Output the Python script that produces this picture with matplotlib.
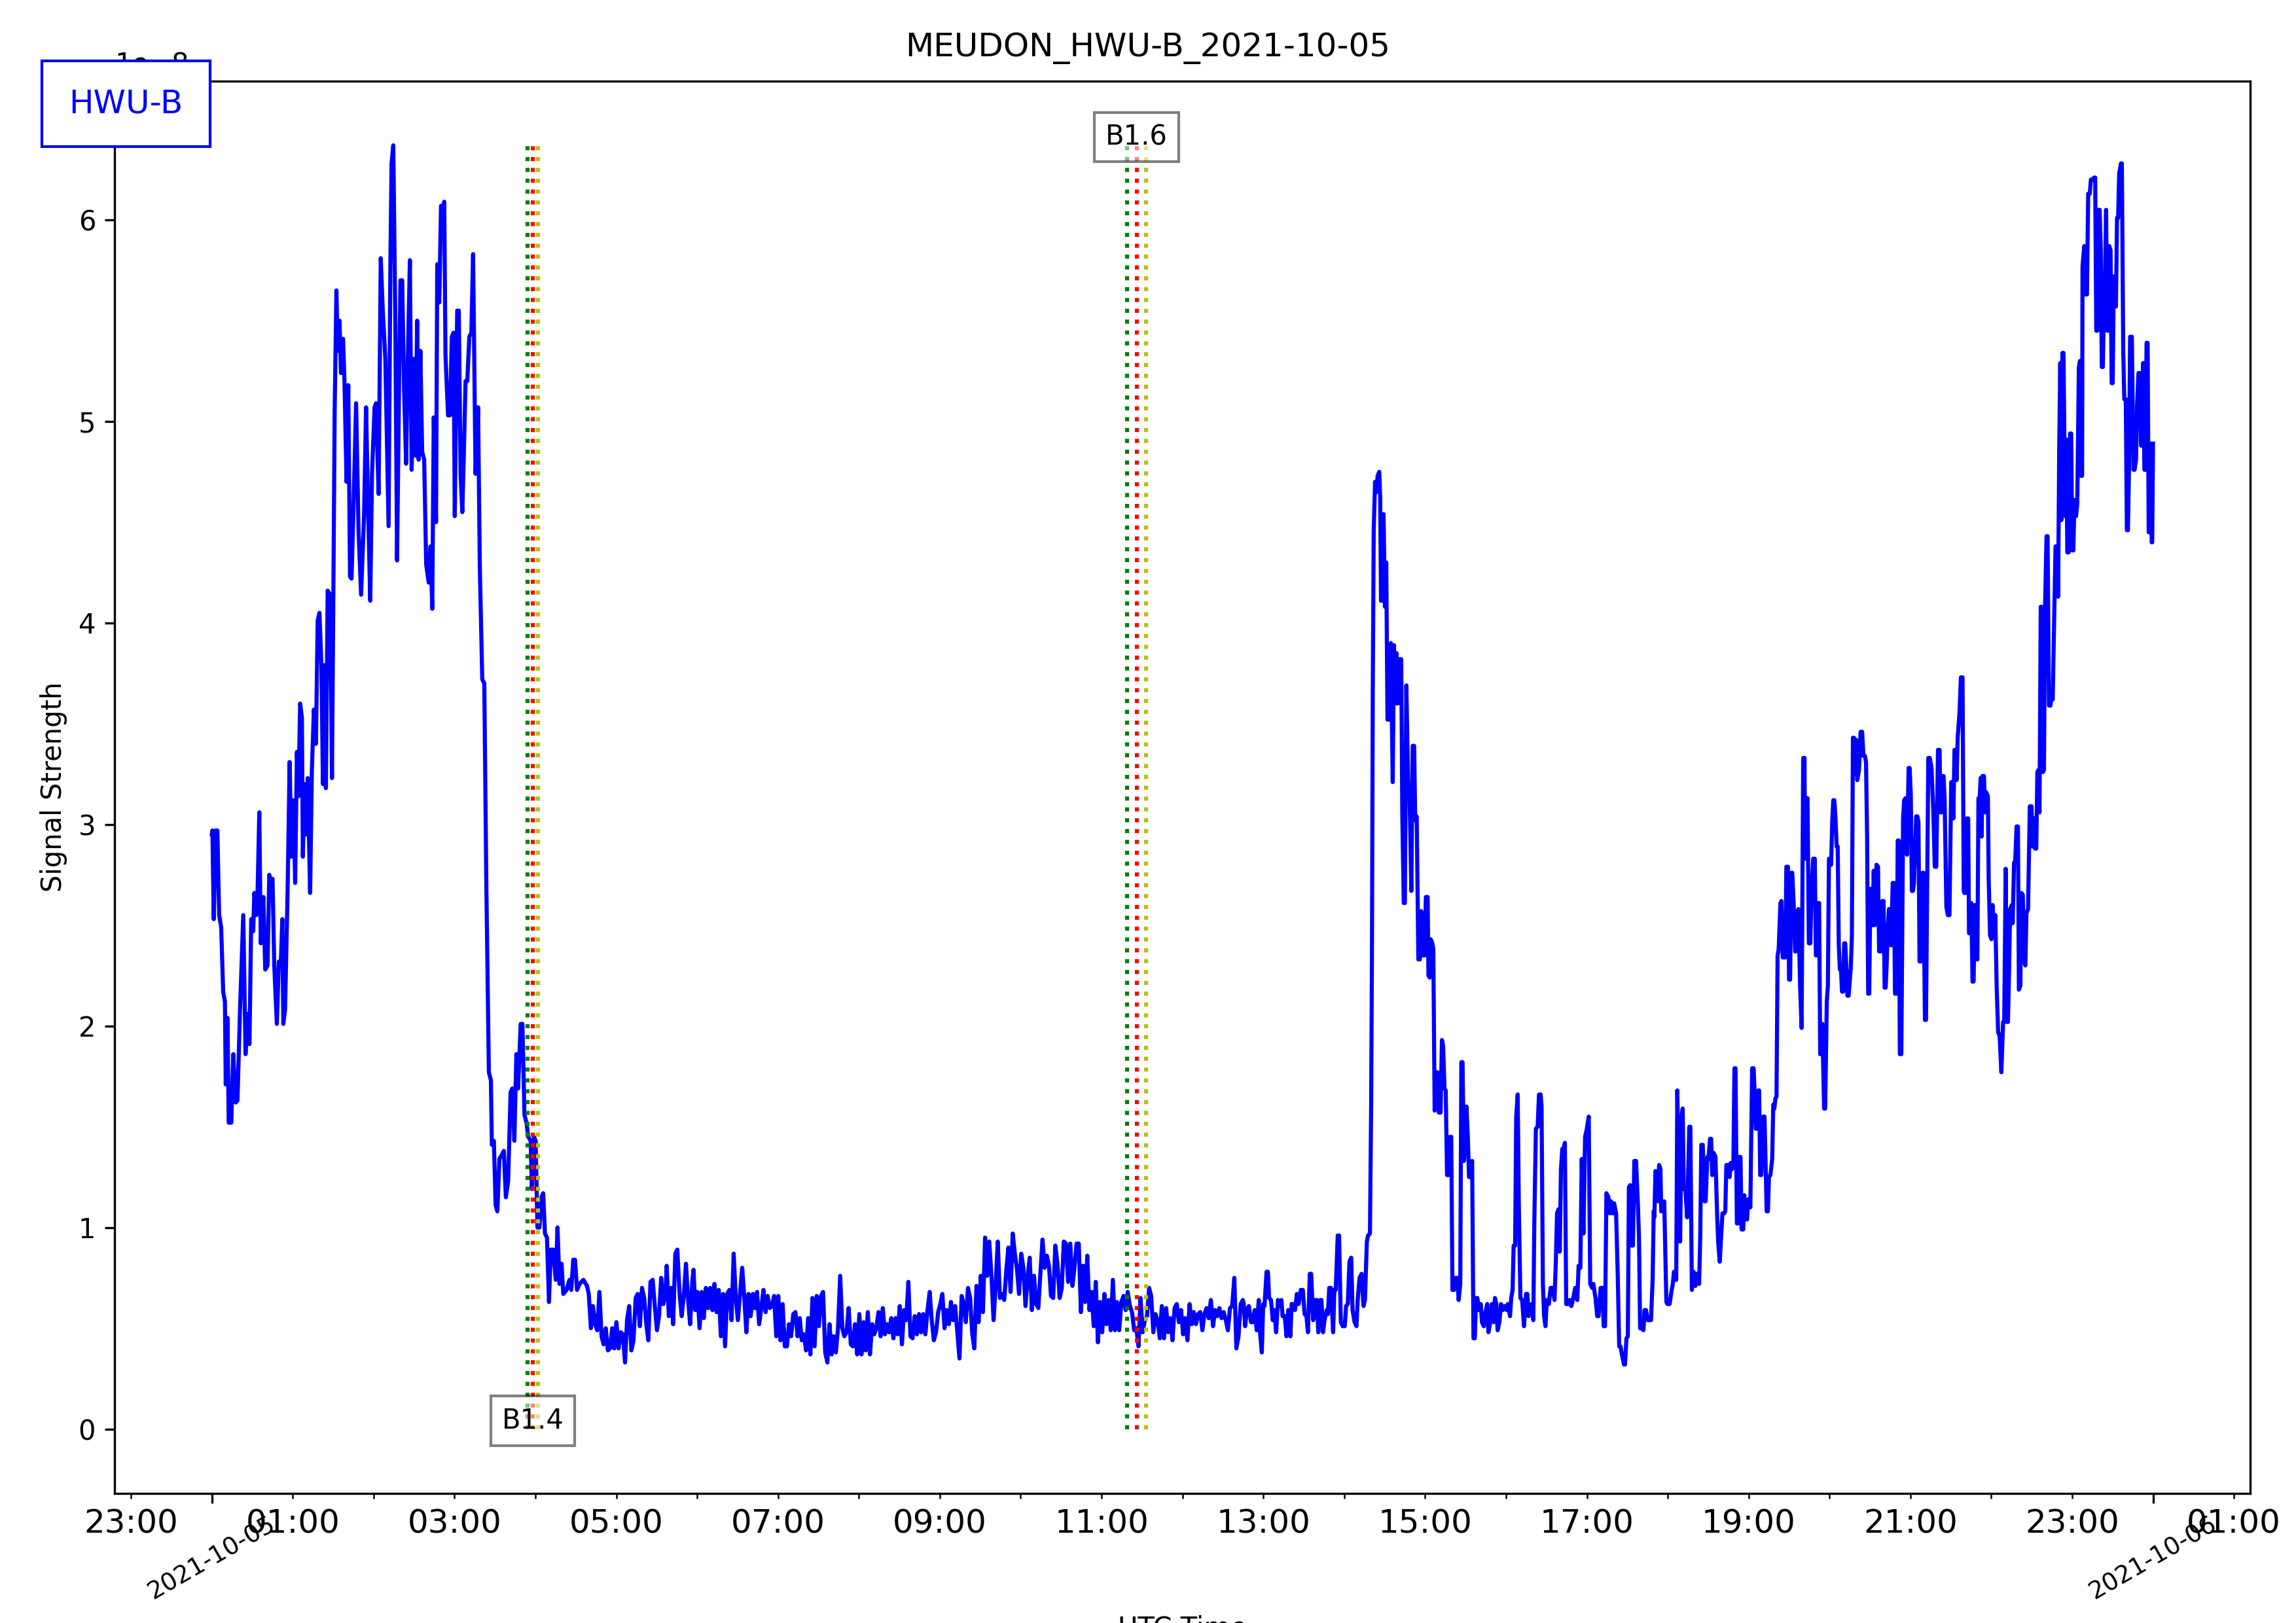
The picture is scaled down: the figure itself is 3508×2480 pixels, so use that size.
import matplotlib
matplotlib.use('Agg')
import matplotlib.pyplot as plt
import matplotlib.dates as mdates
from matplotlib.ticker import FuncFormatter
import numpy as np
import pandas as pd

station = 'MEUDON'
transmitter = 'HWU-B'
day = '2021-10-05'

# signal readings as (minutes after 00:00 UTC, amplitude in units of 1e-8)
night_rise = [
    (0.0, 2.95), (0.4, 2.97), (1.4, 2.53), (2.8, 2.97), (4.1, 2.97), (5.4, 2.55), (6.9, 2.49),
    (8.4, 2.17), (9.7, 2.12), (10.3, 1.71), (11.6, 2.04), (12.5, 1.52), (14.4, 1.52), (15.9, 1.86),
    (17.7, 1.62), (19.0, 1.63), (20.9, 2.08), (23.3, 2.55), (25.0, 1.86), (26.4, 2.06), (27.9, 1.91),
    (29.2, 2.53), (30.7, 2.47), (31.5, 2.66), (33.0, 2.55), (33.9, 2.66), (35.2, 3.06), (36.3, 2.41),
    (38.2, 2.64), (39.6, 2.28), (41.3, 2.30), (42.6, 2.75), (44.1, 2.71), (45.0, 2.73), (46.3, 2.30),
    (48.2, 2.01), (49.7, 2.32), (51.2, 2.32), (52.3, 2.53), (53.0, 2.01), (54.3, 2.08), (56.2, 2.67),
    (57.7, 3.31), (59.0, 2.84), (60.5, 3.12), (61.8, 2.71), (63.1, 3.36), (64.2, 3.14), (65.5, 3.60),
    (66.8, 3.53), (67.5, 2.84), (68.7, 3.20), (70.1, 2.95), (71.1, 3.23), (72.9, 2.66), (74.2, 3.27),
    (75.7, 3.57), (77.2, 3.40), (78.5, 4.01), (79.8, 4.05), (81.3, 3.79), (82.4, 3.20), (83.5, 3.79),
    (84.6, 3.18), (85.9, 4.16), (87.8, 4.14), (89.1, 3.23), (90.2, 4.20), (91.1, 5.05), (92.4, 5.65),
    (93.4, 5.35), (94.7, 5.50), (95.8, 5.24), (97.3, 5.41), (98.4, 5.20), (99.9, 4.70), (101.2, 5.18),
    (102.5, 4.23), (103.6, 4.22), (104.9, 4.53), (107.0, 5.09), (108.8, 4.46), (110.7, 4.14),
    (112.9, 4.53), (114.4, 5.07), (115.9, 4.57), (117.5, 4.11), (118.8, 4.74), (120.7, 5.07),
    (121.8, 5.09), (123.7, 4.64), (125.3, 5.81), (126.8, 5.55), (128.7, 5.31), (131.1, 4.48),
    (132.4, 5.76), (133.3, 6.28), (134.6, 6.37), (136.1, 5.50), (137.4, 4.31), (138.9, 5.20),
    (139.9, 5.70), (141.2, 5.70), (142.6, 5.16), (144.1, 4.79), (145.4, 5.31), (146.9, 5.80),
    (148.2, 4.76), (149.7, 5.31), (151.0, 4.83), (152.3, 5.50), (153.4, 4.81), (154.7, 5.35),
    (156.0, 4.85), (157.5, 4.81), (159.0, 4.29), (160.9, 4.20), (162.2, 4.38), (163.5, 4.07),
    (164.6, 5.02), (166.3, 4.50), (167.2, 5.78), (168.7, 5.59), (170.0, 6.07), (171.5, 6.02),
    (172.4, 6.09), (173.3, 5.33), (175.2, 5.03), (176.7, 5.03), (178.0, 5.42), (179.3, 5.44),
    (180.2, 4.53), (182.0, 5.55), (183.2, 5.55), (184.5, 4.74), (185.8, 4.55), (186.9, 4.83),
    (188.2, 5.20), (189.5, 5.20), (191.0, 5.42), (192.5, 5.44), (193.8, 5.83), (195.6, 4.74),
    (197.5, 5.07), (198.8, 4.27), (200.6, 3.72), (202.1, 3.70), (203.6, 2.71), (205.5, 1.77),
    (207.0, 1.73), (207.7, 1.41), (209.2, 1.43), (210.5, 1.11), (211.8, 1.08), (213.3, 1.34),
    (215.1, 1.36), (216.6, 1.38), (218.1, 1.15), (219.8, 1.23), (221.6, 1.67), (222.9, 1.69),
    (224.4, 1.43), (225.9, 1.86), (227.2, 1.69), (229.1, 2.01), (230.4, 2.01), (231.9, 1.56),
    (233.4, 1.52), (234.7, 1.45), (236.5, 1.43), (237.4, 1.19), (238.9, 1.45), (240.2, 1.43),
    (241.5, 1.00), (243.0, 1.00), (244.5, 1.15), (245.8, 1.17), (247.1, 0.97), (248.6, 0.95),
    (250.1, 0.63), (251.4, 0.89), (253.2, 0.89), (255.1, 0.74), (256.4, 1.00), (257.9, 0.72),
    (259.4, 0.82), (260.7, 0.67), (263.1, 0.69), (265.3, 0.74), (266.6, 0.69), (268.1, 0.84),
    (269.4, 0.84), (270.9, 0.69), (272.8, 0.72), (275.6, 0.74), (278.3, 0.71),
]

quiet_day = [
    (279.6, 0.67), (281.2, 0.50), (282.7, 0.61), (284.3, 0.52), (285.9, 0.49), (287.5, 0.68),
    (289.1, 0.46), (290.6, 0.42), (292.2, 0.50), (293.8, 0.39), (295.4, 0.40), (297.0, 0.50),
    (298.5, 0.40), (300.1, 0.53), (301.7, 0.40), (303.3, 0.48), (304.9, 0.47), (306.5, 0.33),
    (308.0, 0.54), (309.6, 0.61), (311.2, 0.39), (312.8, 0.44), (314.4, 0.65), (315.9, 0.67),
    (317.5, 0.51), (319.1, 0.70), (320.7, 0.65), (322.3, 0.52), (323.8, 0.44), (325.4, 0.73),
    (327.0, 0.74), (328.6, 0.61), (330.2, 0.49), (331.7, 0.56), (333.3, 0.75), (334.9, 0.62),
    (336.5, 0.67), (337.4, 0.81), (339.0, 0.56), (340.6, 0.70), (342.2, 0.52), (343.8, 0.87),
    (345.3, 0.89), (346.9, 0.68), (348.5, 0.56), (350.1, 0.66), (351.7, 0.82), (353.2, 0.65),
    (354.8, 0.52), (356.4, 0.73), (357.3, 0.79), (358.6, 0.59), (360.2, 0.68), (361.8, 0.50),
    (363.3, 0.68), (364.9, 0.55), (366.5, 0.70), (368.1, 0.60), (369.7, 0.70), (371.3, 0.59),
    (372.8, 0.72), (374.4, 0.58), (376.0, 0.69), (377.6, 0.46), (379.2, 0.67), (380.7, 0.41),
    (382.3, 0.67), (383.9, 0.69), (385.5, 0.54), (387.1, 0.87), (388.6, 0.66), (390.2, 0.54),
    (391.8, 0.67), (393.4, 0.80), (395.0, 0.65), (396.5, 0.48), (398.1, 0.67), (399.7, 0.56),
    (401.3, 0.67), (402.9, 0.60), (404.4, 0.68), (406.0, 0.52), (407.6, 0.60), (409.2, 0.69),
    (410.8, 0.58), (412.3, 0.66), (413.9, 0.60), (415.5, 0.61), (417.1, 0.66), (418.7, 0.46),
    (420.2, 0.66), (421.8, 0.44), (423.4, 0.62), (425.0, 0.41), (426.6, 0.41), (428.1, 0.52),
    (429.7, 0.46), (431.3, 0.57), (432.9, 0.58), (434.5, 0.46), (436.1, 0.55), (437.6, 0.44),
    (439.2, 0.47), (440.8, 0.39), (442.4, 0.55), (444.0, 0.37), (445.5, 0.65), (447.1, 0.41),
    (448.7, 0.66), (450.3, 0.51), (451.9, 0.66), (453.4, 0.68), (455.0, 0.38), (456.6, 0.33),
    (458.2, 0.52), (459.8, 0.37), (461.3, 0.46), (462.9, 0.38), (464.5, 0.50), (466.1, 0.76),
    (467.7, 0.50), (469.2, 0.46), (470.8, 0.48), (472.4, 0.60), (474.0, 0.42), (475.6, 0.41),
    (477.1, 0.52), (478.7, 0.37), (480.3, 0.57), (481.9, 0.37), (483.5, 0.53), (485.0, 0.39),
    (486.6, 0.58), (488.2, 0.37), (489.8, 0.52), (491.4, 0.47), (492.9, 0.50), (494.5, 0.58),
    (496.1, 0.46), (497.7, 0.60), (499.3, 0.47), (500.9, 0.52), (502.4, 0.48), (504.0, 0.55),
    (505.6, 0.45), (507.2, 0.55), (508.8, 0.47), (510.3, 0.61), (511.9, 0.42), (513.5, 0.59),
    (515.1, 0.54), (516.7, 0.73), (518.2, 0.46), (519.8, 0.45), (521.4, 0.56), (523.0, 0.47),
    (524.6, 0.57), (526.1, 0.48), (527.7, 0.57), (529.3, 0.47), (530.9, 0.59), (532.5, 0.68),
    (534.0, 0.54), (535.6, 0.44), (537.2, 0.48), (538.8, 0.58), (540.4, 0.62), (541.9, 0.67),
    (543.5, 0.50), (545.1, 0.59), (546.7, 0.52), (548.3, 0.63), (549.8, 0.54), (551.4, 0.61),
    (553.0, 0.48), (554.6, 0.35), (556.2, 0.66), (557.7, 0.62), (559.3, 0.53), (560.9, 0.70),
    (562.5, 0.65), (564.1, 0.47), (565.6, 0.40), (567.2, 0.71), (568.8, 0.53), (570.4, 0.76),
    (572.0, 0.58), (573.6, 0.95), (575.1, 0.76), (576.7, 0.93), (578.3, 0.76), (579.9, 0.54),
    (581.5, 0.72), (583.0, 0.93), (584.6, 0.65), (586.2, 0.67), (587.8, 0.64), (589.4, 0.79),
    (590.9, 0.90), (592.5, 0.68), (594.1, 0.97), (595.7, 0.87), (597.3, 0.79), (598.8, 0.67),
    (600.4, 0.87), (602.0, 0.80), (603.6, 0.61), (605.2, 0.76), (606.7, 0.85), (608.3, 0.59),
    (609.9, 0.76), (611.5, 0.62), (613.1, 0.60), (614.6, 0.77), (616.2, 0.94), (617.8, 0.80),
    (619.4, 0.86), (621.0, 0.81), (622.5, 0.66), (624.1, 0.65), (625.7, 0.91), (627.3, 0.82),
    (628.9, 0.65), (630.5, 0.70), (632.0, 0.93), (633.6, 0.92), (635.2, 0.73), (636.8, 0.92),
    (638.4, 0.71), (639.9, 0.80), (641.5, 0.92), (643.1, 0.92), (644.7, 0.58), (646.3, 0.81),
    (647.8, 0.63), (649.4, 0.86), (651.0, 0.59), (652.6, 0.68), (654.2, 0.51), (655.7, 0.73),
    (657.3, 0.43), (658.9, 0.63), (660.5, 0.48), (662.1, 0.67), (663.6, 0.52), (665.2, 0.64),
    (666.8, 0.49), (668.4, 0.74), (670.0, 0.49), (671.5, 0.63), (673.1, 0.49), (674.7, 0.63),
    (676.3, 0.66), (677.9, 0.59), (679.4, 0.68), (681.0, 0.61), (682.6, 0.58), (684.2, 0.49),
    (685.8, 0.50), (687.4, 0.41), (688.9, 0.65), (690.5, 0.48), (692.1, 0.54), (693.7, 0.56),
    (695.3, 0.70), (696.8, 0.66), (698.4, 0.48), (700.0, 0.57), (701.6, 0.54), (703.2, 0.45),
    (704.7, 0.61), (706.3, 0.45), (707.9, 0.60), (709.5, 0.48), (711.1, 0.55), (712.6, 0.44),
    (714.2, 0.60), (715.8, 0.62), (717.4, 0.53), (719.0, 0.59), (720.5, 0.47), (722.1, 0.55),
    (723.7, 0.44), (725.3, 0.62), (726.9, 0.52), (728.4, 0.58), (730.0, 0.52), (731.6, 0.57),
    (733.2, 0.58), (734.8, 0.49), (736.3, 0.57), (737.9, 0.60), (739.5, 0.55), (741.1, 0.64),
    (742.7, 0.51), (744.2, 0.59), (745.8, 0.56), (747.4, 0.60), (749.0, 0.55), (750.6, 0.58),
    (752.2, 0.54), (753.7, 0.49), (755.3, 0.60), (756.9, 0.61), (758.5, 0.75), (760.0, 0.40),
    (761.6, 0.46), (763.2, 0.62), (764.8, 0.64),
]

afternoon = [
    (765.5, 0.62), (766.5, 0.51), (767.8, 0.59), (769.3, 0.61), (770.9, 0.53), (772.2, 0.53),
    (773.6, 0.59), (775.1, 0.49), (776.6, 0.64), (777.4, 0.49), (778.9, 0.38), (779.9, 0.62),
    (780.9, 0.61), (782.4, 0.78), (783.4, 0.78), (784.3, 0.65), (785.7, 0.64), (787.0, 0.54),
    (788.2, 0.59), (789.5, 0.48), (790.9, 0.64), (792.0, 0.61), (793.4, 0.64), (794.3, 0.56),
    (795.9, 0.56), (797.2, 0.46), (798.5, 0.59), (800.1, 0.46), (801.0, 0.62), (802.0, 0.62),
    (803.5, 0.59), (804.9, 0.67), (806.2, 0.62), (807.8, 0.69), (809.3, 0.69), (810.6, 0.57),
    (812.0, 0.56), (813.1, 0.48), (814.5, 0.77), (815.5, 0.77), (817.0, 0.54), (818.3, 0.64),
    (819.7, 0.64), (820.8, 0.48), (822.2, 0.64), (823.1, 0.64), (824.3, 0.48), (825.4, 0.54),
    (827.0, 0.59), (827.9, 0.57), (828.9, 0.70), (830.2, 0.70), (831.8, 0.48), (832.7, 0.69),
    (833.7, 0.69), (835.2, 0.96), (836.2, 0.96), (837.5, 0.53), (838.9, 0.51), (840.4, 0.51),
    (841.4, 0.61), (842.7, 0.62), (843.9, 0.83), (845.2, 0.85), (846.2, 0.59), (847.7, 0.53),
    (849.1, 0.51), (850.0, 0.64), (851.4, 0.75), (852.9, 0.77), (854.3, 0.61), (855.4, 0.64),
    (856.8, 0.93), (857.7, 0.96), (859.1, 0.97), (860.0, 1.61), (860.6, 2.38), (861.2, 3.66),
    (861.9, 4.46), (862.9, 4.70), (863.9, 4.65), (864.8, 4.73), (866.0, 4.75), (866.7, 4.62),
    (867.3, 4.11), (868.3, 4.11), (869.2, 4.54), (870.2, 4.08), (871.2, 4.30), (872.1, 3.52),
    (873.5, 3.52), (874.6, 3.90), (876.0, 3.21), (876.9, 3.89), (878.1, 3.60), (878.8, 3.85),
    (879.8, 3.60), (880.8, 3.82), (882.3, 3.82), (883.1, 3.05), (884.2, 2.61), (885.0, 2.61),
    (886.1, 3.69), (887.5, 3.18), (888.5, 3.15), (889.8, 2.67), (890.8, 3.39), (891.9, 3.39),
    (892.7, 3.02), (893.8, 3.04), (895.0, 2.33), (896.1, 2.33), (897.1, 2.57), (898.1, 2.35),
    (899.6, 2.35), (900.6, 2.64), (901.9, 2.64), (902.5, 2.25), (903.4, 2.24), (904.2, 2.43),
    (905.4, 2.41), (906.1, 2.38), (907.1, 1.58), (908.0, 1.77), (909.2, 1.77), (910.2, 1.57),
    (911.5, 1.57), (912.5, 1.93), (913.4, 1.90), (914.4, 1.69), (915.3, 1.68), (916.3, 1.26),
    (917.3, 1.26), (918.4, 1.45), (919.4, 1.45), (920.3, 0.69), (921.5, 0.69), (922.6, 0.75),
    (924.0, 0.75), (924.9, 0.64), (926.1, 0.72), (926.9, 1.82), (927.8, 1.82), (928.8, 1.33),
    (929.7, 1.42), (930.7, 1.60), (931.7, 1.45), (932.6, 1.25), (933.6, 1.25), (934.9, 1.33),
    (935.9, 0.45), (936.9, 0.45), (937.8, 0.65), (938.8, 0.65), (939.9, 0.59), (941.3, 0.62),
    (942.2, 0.53), (943.6, 0.51), (944.5, 0.57), (946.1, 0.62), (947.0, 0.48), (948.6, 0.54),
    (949.5, 0.62), (950.9, 0.53), (951.8, 0.65), (952.8, 0.62), (953.8, 0.49), (955.1, 0.53),
    (956.3, 0.62), (957.6, 0.59), (959.1, 0.61), (960.5, 0.59), (961.4, 0.62), (963.0, 0.56),
    (963.9, 0.65), (964.9, 0.69), (965.7, 0.91), (966.8, 0.91), (967.6, 1.55), (968.7, 1.66),
    (969.5, 1.13), (970.7, 0.65), (972.0, 0.64), (973.4, 0.51), (974.9, 0.67), (975.9, 0.67),
    (976.8, 0.56), (978.2, 0.59), (979.1, 0.62), (980.3, 0.54), (981.0, 1.01), (982.2, 1.49),
    (983.5, 1.50), (984.5, 1.66), (985.7, 1.66), (986.4, 1.60), (987.4, 0.72), (988.3, 0.56),
    (989.3, 0.51), (990.3, 0.64), (991.8, 0.62), (993.1, 0.70), (994.7, 0.70), (996.0, 0.64),
    (997.0, 0.83), (997.9, 1.07), (998.9, 1.09), (999.9, 0.88), (1000.8, 1.29), (1001.8, 1.39),
    (1002.7, 1.39), (1003.7, 1.42), (1004.7, 0.62), (1006.0, 0.62), (1007.2, 0.64), (1008.5, 0.61),
    (1009.9, 0.65), (1011.4, 0.70), (1012.9, 0.64), (1013.9, 0.81), (1015.2, 0.80), (1016.2, 1.34),
    (1017.5, 0.97), (1018.7, 1.45), (1020.0, 1.49), (1021.4, 1.55), (1022.5, 0.72), (1023.9, 0.70),
    (1024.8, 0.72), (1026.4, 0.65), (1027.7, 0.56), (1028.7, 0.56), (1030.2, 0.70), (1031.6, 0.70),
    (1032.5, 0.51), (1033.5, 0.51), (1034.5, 1.17), (1036.0, 1.15), (1037.0, 1.07), (1037.9, 1.13),
    (1039.3, 1.07), (1040.2, 1.12), (1041.7, 1.07), (1042.9, 0.77), (1044.0, 0.41), (1045.0, 0.41),
    (1046.0, 0.37), (1047.5, 0.32), (1048.3, 0.32), (1049.4, 0.45), (1050.4, 0.46), (1051.2, 1.20),
    (1052.1, 1.21), (1053.3, 0.91), (1054.2, 0.91), (1055.2, 1.33), (1056.5, 1.33),
]

evening = [
    (1057.9, 1.11), (1058.7, 0.95), (1059.5, 0.50), (1060.7, 0.50), (1062.0, 0.49), (1062.8, 0.59),
    (1063.9, 0.59), (1065.2, 0.54), (1066.5, 0.54), (1067.6, 0.54), (1068.8, 0.74), (1069.6, 1.08),
    (1070.1, 1.05), (1070.9, 1.28), (1072.0, 1.26), (1072.8, 1.13), (1073.6, 1.31), (1074.6, 1.29),
    (1075.2, 1.08), (1076.5, 1.11), (1077.4, 1.13), (1079.0, 0.63), (1079.8, 0.62), (1081.4, 0.62),
    (1082.7, 0.68), (1083.8, 0.72), (1084.6, 0.78), (1086.3, 0.74), (1087.1, 1.68), (1088.2, 1.23),
    (1089.2, 0.93), (1090.3, 1.55), (1091.1, 1.59), (1091.9, 1.19), (1093.1, 1.19), (1094.4, 1.05),
    (1096.0, 1.50), (1096.8, 1.50), (1097.9, 0.69), (1099.2, 0.78), (1100.5, 0.71), (1101.6, 0.77),
    (1103.3, 0.72), (1104.1, 0.95), (1104.9, 1.41), (1106.0, 1.41), (1107.3, 1.13), (1108.1, 1.13),
    (1109.4, 1.35), (1110.2, 1.34), (1111.4, 1.44), (1112.2, 1.44), (1113.0, 1.26), (1114.1, 1.37),
    (1115.4, 1.35), (1116.7, 1.05), (1117.5, 0.92), (1118.6, 0.83), (1119.4, 0.93), (1120.6, 1.07),
    (1121.9, 1.07), (1122.7, 1.08), (1123.5, 1.31), (1124.8, 1.31), (1125.9, 1.25), (1126.7, 1.32),
    (1127.9, 1.29), (1128.7, 1.32), (1129.5, 1.79), (1130.3, 1.79), (1131.3, 1.02), (1132.4, 1.02),
    (1133.2, 1.35), (1134.0, 1.35), (1134.8, 0.99), (1136.0, 0.99), (1136.8, 1.16), (1137.7, 1.04),
    (1138.9, 1.04), (1139.7, 1.14), (1141.3, 1.10), (1142.6, 1.79), (1143.7, 1.79), (1144.5, 1.67),
    (1145.3, 1.49), (1146.5, 1.49), (1147.3, 1.68), (1147.8, 1.68), (1148.6, 1.26), (1149.4, 1.26),
    (1150.7, 1.55), (1151.8, 1.55), (1152.6, 1.31), (1153.4, 1.08), (1154.3, 1.08), (1155.1, 1.25),
    (1156.2, 1.26), (1157.5, 1.34), (1158.3, 1.61), (1159.1, 1.59), (1159.9, 1.64), (1160.7, 1.65),
    (1161.5, 2.35), (1162.3, 2.38), (1163.6, 2.61), (1164.3, 2.62), (1165.3, 2.34), (1166.1, 2.34),
    (1167.2, 2.34), (1168.0, 2.79), (1169.2, 2.79), (1170.0, 2.23), (1170.8, 2.23), (1171.6, 2.76),
    (1172.4, 2.76), (1173.4, 2.61), (1174.5, 2.37), (1175.3, 2.37), (1176.1, 2.53), (1176.9, 2.58),
    (1178.2, 2.20), (1179.3, 1.99), (1180.5, 3.33), (1181.5, 3.33), (1181.8, 2.83), (1182.6, 3.13),
    (1183.7, 3.13), (1184.7, 2.41), (1185.8, 2.41), (1186.6, 2.65), (1187.9, 2.83), (1189.1, 2.83),
    (1189.9, 2.35), (1190.7, 2.35), (1191.5, 2.61), (1192.3, 2.61), (1193.1, 1.86), (1193.9, 1.86),
    (1194.7, 2.01), (1196.0, 1.59), (1196.8, 1.59), (1198.0, 2.12), (1198.8, 2.20), (1199.6, 2.83),
    (1200.4, 2.83), (1201.2, 2.80), (1202.0, 3.01), (1202.8, 3.12), (1203.6, 3.12), (1204.4, 3.04),
    (1205.3, 2.89), (1206.1, 2.89), (1206.9, 2.40), (1207.7, 2.28), (1208.5, 2.28), (1209.3, 2.17),
    (1210.1, 2.17), (1210.9, 2.41), (1211.7, 2.41), (1212.5, 2.29), (1213.3, 2.15), (1214.2, 2.15),
    (1215.8, 2.29), (1216.6, 2.44), (1217.4, 3.43), (1218.2, 3.43), (1219.0, 3.25), (1219.8, 3.42),
    (1220.6, 3.22), (1221.9, 3.27), (1223.1, 3.46), (1224.2, 3.46), (1225.2, 3.34), (1226.3, 3.34),
    (1227.1, 3.31), (1227.9, 2.94), (1228.7, 2.16), (1229.5, 2.16), (1230.3, 2.68), (1231.2, 2.68),
    (1232.0, 2.50), (1232.8, 2.77), (1233.6, 2.50), (1234.9, 2.80), (1236.0, 2.79), (1236.8, 2.37),
    (1238.1, 2.37), (1239.3, 2.62), (1240.1, 2.62), (1240.9, 2.19), (1241.7, 2.19), (1242.5, 2.32),
    (1243.3, 2.50), (1244.1, 2.58), (1244.9, 2.43), (1245.7, 2.40), (1246.9, 2.71), (1247.8, 2.71),
    (1248.6, 2.16), (1249.8, 2.16), (1250.6, 2.92), (1251.4, 2.92), (1252.2, 1.86), (1253.3, 1.86),
    (1254.6, 3.03), (1255.4, 3.12), (1256.3, 3.13), (1257.5, 2.85), (1258.7, 3.28), (1259.5, 3.28),
    (1260.3, 3.15), (1261.1, 2.67), (1261.9, 2.67), (1262.7, 2.71), (1264.3, 3.04), (1265.2, 3.04),
    (1266.0, 3.01), (1266.8, 2.32), (1267.9, 2.32), (1268.9, 2.76), (1269.7, 2.76), (1270.8, 2.03),
    (1271.6, 2.03), (1273.3, 3.33), (1274.4, 3.33), (1275.7, 3.28), (1277.0, 3.07), (1278.1, 2.79),
    (1279.2, 2.79), (1280.5, 3.37), (1281.7, 3.37), (1282.2, 3.06), (1283.0, 3.06), (1283.8, 3.24),
    (1284.6, 3.24), (1285.4, 3.13), (1286.7, 2.59), (1287.8, 2.55), (1289.0, 2.55), (1290.3, 3.21),
    (1291.1, 3.21), (1291.9, 3.03), (1292.7, 3.37), (1293.5, 3.37), (1294.3, 3.22), (1295.1, 3.43),
    (1296.4, 3.55), (1297.5, 3.73), (1298.7, 3.73), (1299.6, 2.67),
]

late_night = [
    (1300.0, 2.66), (1300.8, 2.66), (1301.9, 3.03), (1302.9, 3.03), (1303.5, 2.46), (1304.5, 2.46),
    (1305.2, 2.61), (1306.1, 2.22), (1306.9, 2.22), (1307.8, 2.60), (1308.9, 2.33), (1309.7, 2.33),
    (1310.5, 3.13), (1311.3, 3.11), (1312.1, 3.23), (1312.9, 2.94), (1313.4, 3.24), (1314.6, 3.24),
    (1315.4, 3.06), (1316.2, 3.16), (1317.5, 3.14), (1318.1, 2.73), (1319.1, 2.45), (1320.2, 2.43),
    (1321.0, 2.60), (1322.2, 2.45), (1323.0, 2.55), (1324.0, 2.20), (1325.1, 1.97), (1326.2, 1.95),
    (1327.5, 1.77), (1328.8, 2.02), (1329.6, 2.02), (1330.7, 2.78), (1331.6, 2.02), (1332.4, 2.02),
    (1333.2, 2.27), (1334.0, 2.58), (1335.3, 2.60), (1335.9, 2.51), (1336.9, 2.81), (1337.7, 2.81),
    (1338.8, 2.99), (1339.8, 2.99), (1340.5, 2.18), (1341.6, 2.20), (1342.4, 2.66), (1343.4, 2.65),
    (1344.5, 2.32), (1345.3, 2.30), (1346.1, 2.56), (1347.3, 2.58), (1348.6, 3.09), (1349.9, 3.09),
    (1350.7, 2.89), (1351.8, 3.03), (1352.6, 2.88), (1353.4, 2.88), (1354.2, 3.26), (1355.0, 3.27),
    (1355.8, 3.06), (1356.7, 4.08), (1357.5, 4.08), (1358.3, 3.26), (1359.1, 3.27), (1359.9, 4.08),
    (1361.0, 4.43), (1361.8, 4.43), (1362.8, 3.59), (1363.9, 3.59), (1364.7, 3.64), (1365.6, 3.62),
    (1366.4, 3.92), (1367.7, 4.38), (1368.8, 4.38), (1369.6, 4.13), (1370.4, 4.86), (1371.2, 5.29),
    (1372.0, 4.51), (1372.8, 5.34), (1373.6, 5.34), (1374.8, 4.53), (1375.8, 4.91), (1376.4, 4.35),
    (1377.4, 4.35), (1378.5, 4.94), (1379.3, 4.94), (1380.1, 4.36), (1380.9, 4.36), (1381.7, 4.61),
    (1382.9, 4.53), (1383.8, 4.59), (1385.0, 5.27), (1385.8, 5.30), (1386.6, 4.73), (1387.4, 4.73),
    (1387.7, 5.77), (1389.0, 5.87), (1389.8, 5.63), (1391.0, 5.63), (1391.9, 6.13), (1393.1, 6.13),
    (1393.9, 6.20), (1395.2, 6.20), (1396.3, 6.21), (1397.1, 6.21), (1397.9, 5.45), (1398.7, 5.45),
    (1399.6, 6.05), (1400.4, 6.05), (1401.2, 5.87), (1402.0, 5.27), (1402.8, 5.27), (1403.6, 5.59),
    (1404.4, 5.72), (1405.2, 6.05), (1406.0, 5.45), (1406.8, 5.45), (1407.6, 5.87), (1408.5, 5.85),
    (1409.3, 5.19), (1410.1, 5.19), (1410.9, 5.72), (1411.7, 5.72), (1412.5, 5.57), (1413.3, 6.01),
    (1414.1, 6.01), (1414.9, 6.23), (1416.2, 6.28), (1416.9, 6.28), (1417.9, 5.35), (1418.7, 5.11),
    (1419.8, 5.11), (1420.6, 4.46), (1421.4, 4.46), (1422.2, 4.78), (1423.0, 5.42), (1424.3, 5.42),
    (1425.5, 4.76), (1426.3, 4.76), (1427.4, 4.81), (1428.2, 5.09), (1429.2, 5.24), (1430.3, 5.24),
    (1431.1, 4.88), (1431.9, 4.88), (1432.7, 5.29), (1433.6, 4.76), (1434.4, 4.76), (1435.2, 5.39),
    (1436.0, 5.39), (1436.8, 4.45), (1437.6, 4.45), (1438.4, 4.89), (1439.0, 4.40), (1439.4, 4.40),
    (1440.0, 4.89),
]

# solar flares of the day (GOES class, start, peak, end in UTC)
flare_class = ['B1.4', 'B1.6']
flare_start = ['03:54', '11:19']
flare_peak = ['03:58', '11:26']
flare_end = ['04:02', '11:33']
label_on_top = [False, True]


def hour_label(x, pos):
    # only every second hour gets a label
    d = mdates.num2date(x)
    if d.hour % 2 == 1:
        return d.strftime('%H:%M')
    return ''


def main():
    readings = night_rise + quiet_day + afternoon + evening + late_night
    minutes = np.array([r[0] for r in readings])
    signal = np.array([r[1] for r in readings]) * 1e-8

    t0 = pd.Timestamp(day)
    times = t0 + pd.to_timedelta(minutes, unit='min')

    fig, ax = plt.subplots(figsize=(3508 / 300, 2480 / 300), dpi=300)
    fig.subplots_adjust(left=0.05, right=0.98, bottom=0.08, top=0.95)

    ax.plot(times, signal, color='blue', linewidth=1.5)

    top = signal.max()
    for i, name in enumerate(flare_class):
        ts = t0 + pd.to_timedelta(flare_start[i] + ':00')
        tp = t0 + pd.to_timedelta(flare_peak[i] + ':00')
        te = t0 + pd.to_timedelta(flare_end[i] + ':00')
        ax.vlines(ts, 0, top, colors='g', linestyles='dotted', linewidth=1.5)
        ax.vlines(tp, 0, top, colors='r', linestyles='dotted', linewidth=1.5)
        ax.vlines(te, 0, top, colors='y', linestyles='dotted', linewidth=1.5)
        y = top if label_on_top[i] else 0
        ax.annotate(name, (tp, y), xytext=(0, 3), textcoords='offset points',
                    ha='center', va='center', fontsize=10,
                    bbox=dict(facecolor='white', alpha=0.5))

    ax.xaxis.set_major_locator(mdates.DayLocator())
    ax.xaxis.set_major_formatter(mdates.DateFormatter('%Y-%m-%d'))
    ax.xaxis.set_minor_locator(mdates.HourLocator())
    ax.xaxis.set_minor_formatter(FuncFormatter(hour_label))
    ax.tick_params(axis='x', which='major', labelsize=9, labelrotation=30)
    ax.tick_params(axis='x', which='minor', labelsize=12)

    fig.suptitle(station + '_' + transmitter + '_' + day)
    ax.set_xlabel('UTC Time')
    ax.set_ylabel('Signal Strength')

    fig.text(0.0549, 0.936, transmitter, color='blue', fontsize=12, ha='center', va='center',
             bbox=dict(facecolor='white', edgecolor='blue', pad=10))

    fig.savefig('out.png', dpi=300)


if __name__ == "__main__":
    main()
